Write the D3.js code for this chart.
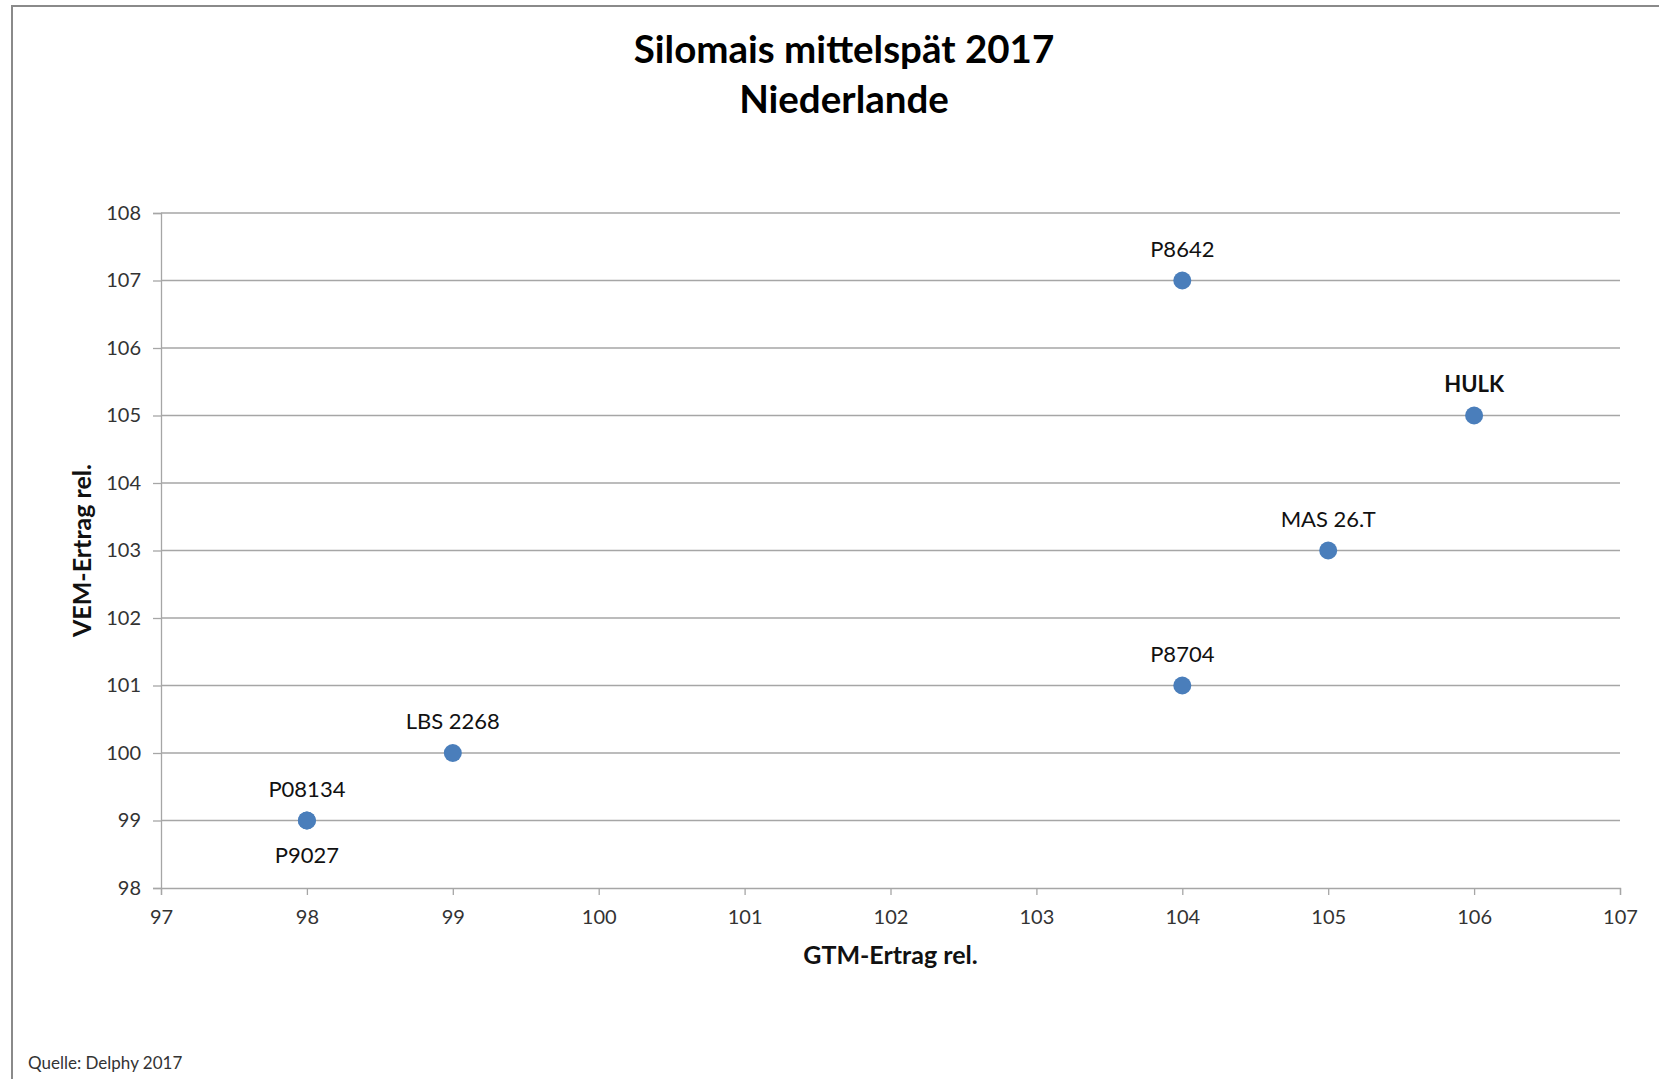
<!DOCTYPE html>
<html><head><meta charset="utf-8">
<script src="https://cdn.jsdelivr.net/npm/d3@7"></script>
<style>
html,body{margin:0;padding:0;background:#fff;}
svg{display:block;font-family:Lato,"Open Sans",sans-serif;}
</style></head>
<body>
<svg id="chart" width="1659" height="1079"></svg>
<script>
const names = ["P8642","HULK","MAS 26.T","P8704","LBS 2268","P08134","P9027"];
const gtm = [104,106,105,104,99,98,98];
const vem = [107,105,103,101,100,99,99];
const labelPos = ["above","above","above","above","above","above","below"];
const boldLabel = ["HULK"];
const xTicks = [97,98,99,100,101,102,103,104,105,106,107];
const yTicks = [98,99,100,101,102,103,104,105,106,107,108];

const svg = d3.select("#chart");
const W=1659,H=1079;
const m = {left:161,right:1620,top:213,bottom:888};

// frame
svg.append("rect").attr("x",12).attr("y",6).attr("width",W-12+5).attr("height",H).attr("fill","none").attr("stroke","#8a8a8a").attr("stroke-width",2);

const x = d3.scaleLinear().domain([97,107]).range([m.left,m.right]);
const y = d3.scaleLinear().domain([98,108]).range([m.bottom,m.top]);

// gridlines
svg.append("g").selectAll("line").data(yTicks.filter(d=>d!==98)).join("line")
  .attr("x1",m.left).attr("x2",m.right).attr("y1",d=>y(d)).attr("y2",d=>y(d))
  .attr("stroke","#a6a6a6").attr("stroke-width",1.3);

// y axis
const yAxis = svg.append("g").attr("transform",`translate(${m.left},0)`)
  .call(d3.axisLeft(y).tickValues(yTicks).tickSize(8).tickPadding(12));
// x axis
const xAxis = svg.append("g").attr("transform",`translate(0,${m.bottom})`)
  .call(d3.axisBottom(x).tickValues(xTicks).tickSize(7).tickPadding(15));
[xAxis,yAxis].forEach(a=>{
  a.select(".domain").attr("stroke","#a6a6a6").attr("stroke-width",1.3);
  a.selectAll(".tick line").attr("stroke","#a6a6a6").attr("stroke-width",1.3);
  a.selectAll("text").attr("fill","#333").style("font-size","20px").style("font-family","Lato,'Open Sans',sans-serif");
});

const data = names.map((n,i)=>({n,gx:gtm[i],vy:vem[i],pos:labelPos[i]}));

svg.append("g").selectAll("circle").data(data).join("circle")
  .attr("cx",d=>x(d.gx)).attr("cy",d=>y(d.vy)).attr("r",9).attr("fill","#4a7ebb");

svg.append("g").selectAll("text").data(data).join("text")
  .attr("x",d=>x(d.gx))
  .attr("y",d=>d.pos==="above"? y(d.vy)-24 : y(d.vy)+42)
  .attr("text-anchor","middle")
  .style("font-size","22px")
  .style("font-weight",d=>boldLabel.includes(d.n)?"bold":"normal")
  .attr("fill","#111")
  .text(d=>d.n);

// titles
const tx = 844;
svg.append("text").attr("x",tx).attr("y",63).attr("text-anchor","middle")
  .style("font-size","38.5px").style("font-weight","bold").attr("fill","#000").text("Silomais mittelspät 2017");
svg.append("text").attr("x",tx).attr("y",113).attr("text-anchor","middle")
  .style("font-size","38.5px").style("font-weight","bold").attr("fill","#000").text("Niederlande");

svg.append("text").attr("x",(m.left+m.right)/2).attr("y",964).attr("text-anchor","middle")
  .style("font-size","25px").style("font-weight","bold").attr("fill","#111").text("GTM-Ertrag rel.");
svg.append("text").attr("transform",`translate(91,${(m.top+m.bottom)/2}) rotate(-90)`).attr("text-anchor","middle")
  .style("font-size","25px").style("font-weight","bold").attr("fill","#111").text("VEM-Ertrag rel.");

svg.append("text").attr("x",28).attr("y",1069).style("font-size","17px").attr("fill","#333").text("Quelle: Delphy 2017");
</script>
</body></html>
